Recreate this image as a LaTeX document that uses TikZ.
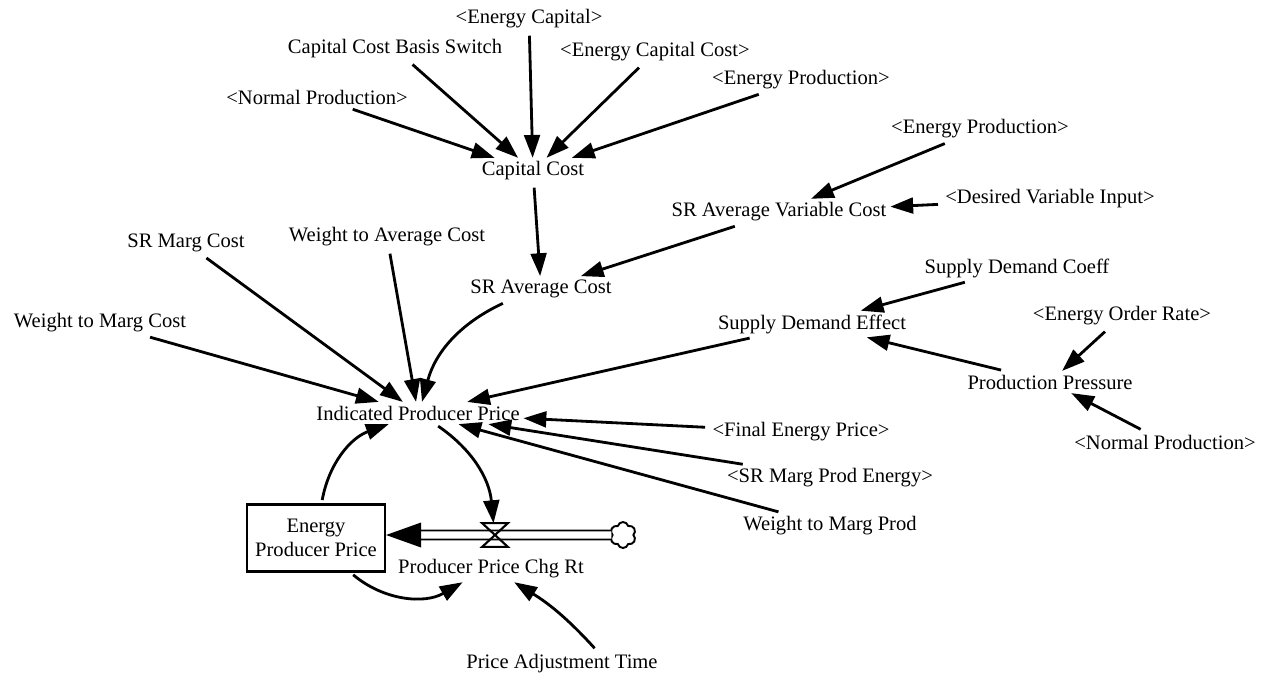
\documentclass[tikz,border=0pt]{standalone}
\usepackage{fontspec}
\setmainfont{Liberation Serif}
\usetikzlibrary{arrows.meta,shapes.symbols}

\begin{document}
\begin{tikzpicture}[
x=0.02cm, y=-0.02cm,
var/.style={
font=\fontsize{11.7}{13}\selectfont,
inner sep=2pt
},
level/.style={
draw,
line width=1.2pt,
align=center,
font=\fontsize{11.7}{14}\selectfont,
minimum width=2.76cm,
minimum height=1.34cm
},
link/.style={-{Triangle[length=13pt,width=9pt]}, line width=1.6pt, shorten <=2pt},
pipe/.style={double, line width=1.1pt, double distance=4pt, -{Triangle[length=20pt,width=14pt]}}
]
\useasboundingbox (0,0) rectangle (1267,677);

\node[var] (ecap) at (529,19) {<Energy Capital>};
\node[var] (ccbs) at (395,49) {Capital Cost Basis Switch};
\node[var] (ecc) at (655,52) {<Energy Capital Cost>};
\node[var] (eprodA) at (801,80) {<Energy Production>};
\node[var] (nprodA) at (317,97) {<Normal Production>};
\node[var] (ccost) at (533,171) {Capital Cost};
\node[var] (eprodB) at (980,129) {<Energy Production>};
\node[var] (dvi) at (1050,199) {<Desired Variable Input>};
\node[var] (sravc) at (779,212) {SR Average Variable Cost};
\node[var] (srmc) at (186,243) {SR Marg Cost};
\node[var] (wac) at (387,237) {Weight to Average Cost};
\node[var] (srac) at (541,289) {SR Average Cost};
\node[var] (sdc) at (1017,268) {Supply Demand Coeff};
\node[var] (wmc) at (100,323) {Weight to Marg Cost};
\node[var] (sde) at (812,324) {Supply Demand Effect};
\node[var] (eor) at (1122,316) {<Energy Order Rate>};
\node[var] (ppress) at (1050,382) {Production Pressure};
\node[var] (ipp) at (418,413) {Indicated Producer Price};
\node[var] (fep) at (801,432) {<Final Energy Price>};
\node[var] (nprodB) at (1165,442) {<Normal Production>};
\node[var] (srmpe) at (830,478) {<SR Marg Prod Energy>};
\node[var] (wmp) at (830,526) {Weight to Marg Prod};
\node[level] (epp) at (316,538) {Energy\\Producer Price};
\node[minimum width=0.5cm, minimum height=0.46cm, inner sep=0pt] (valve) at (495,535) {};
\node[var] (pcr) at (491,569) {Producer Price Chg Rt};
\node[cloud, draw, line width=1.1pt, cloud puffs=6, aspect=1, minimum width=0.52cm, minimum height=0.52cm, inner sep=0pt] (src) at (623,535) {};
\node[var] (pat) at (562,664) {Price Adjustment Time};

\draw[pipe] (src) -- (src -| epp.east);
\draw[line width=1.2pt] (valve.north west) -- (valve.north east) -- (valve.south west) -- (valve.south east) -- cycle;

\draw[link] (nprodA) -- (ccost);
\draw[link] (ccbs) -- (ccost);
\draw[link] (ecap) -- (ccost);
\draw[link] (ecc) -- (ccost);
\draw[link] (eprodA) -- (ccost);
\draw[link] (ccost) -- (srac);
\draw[link] (eprodB) -- (sravc);
\draw[link] (dvi) -- (sravc);
\draw[link] (sravc) -- (srac);
\draw[link] (sdc) -- (sde);
\draw[link] (ppress) -- (sde);
\draw[link] (eor) -- (ppress);
\draw[link] (nprodB) -- (ppress);
\draw[link] (wmc) -- (ipp);
\draw[link] (srmc) -- (ipp);
\draw[link] (wac) -- (ipp);
\draw[link] (srac) to[bend right=25] (ipp);
\draw[link] (sde) -- (ipp);
\draw[link] (fep) -- (ipp);
\draw[link] (srmpe) -- (ipp);
\draw[link] (wmp) -- (ipp);
\draw[link] (epp) to[bend left=30] (ipp);
\draw[link] (ipp) to[bend left=25] (valve);
\draw[link] (epp) to[bend right=35] (pcr);
\draw[link] ([xshift=0.7cm]pat.north) to[bend right=8] (pcr);
\end{tikzpicture}
\end{document}
